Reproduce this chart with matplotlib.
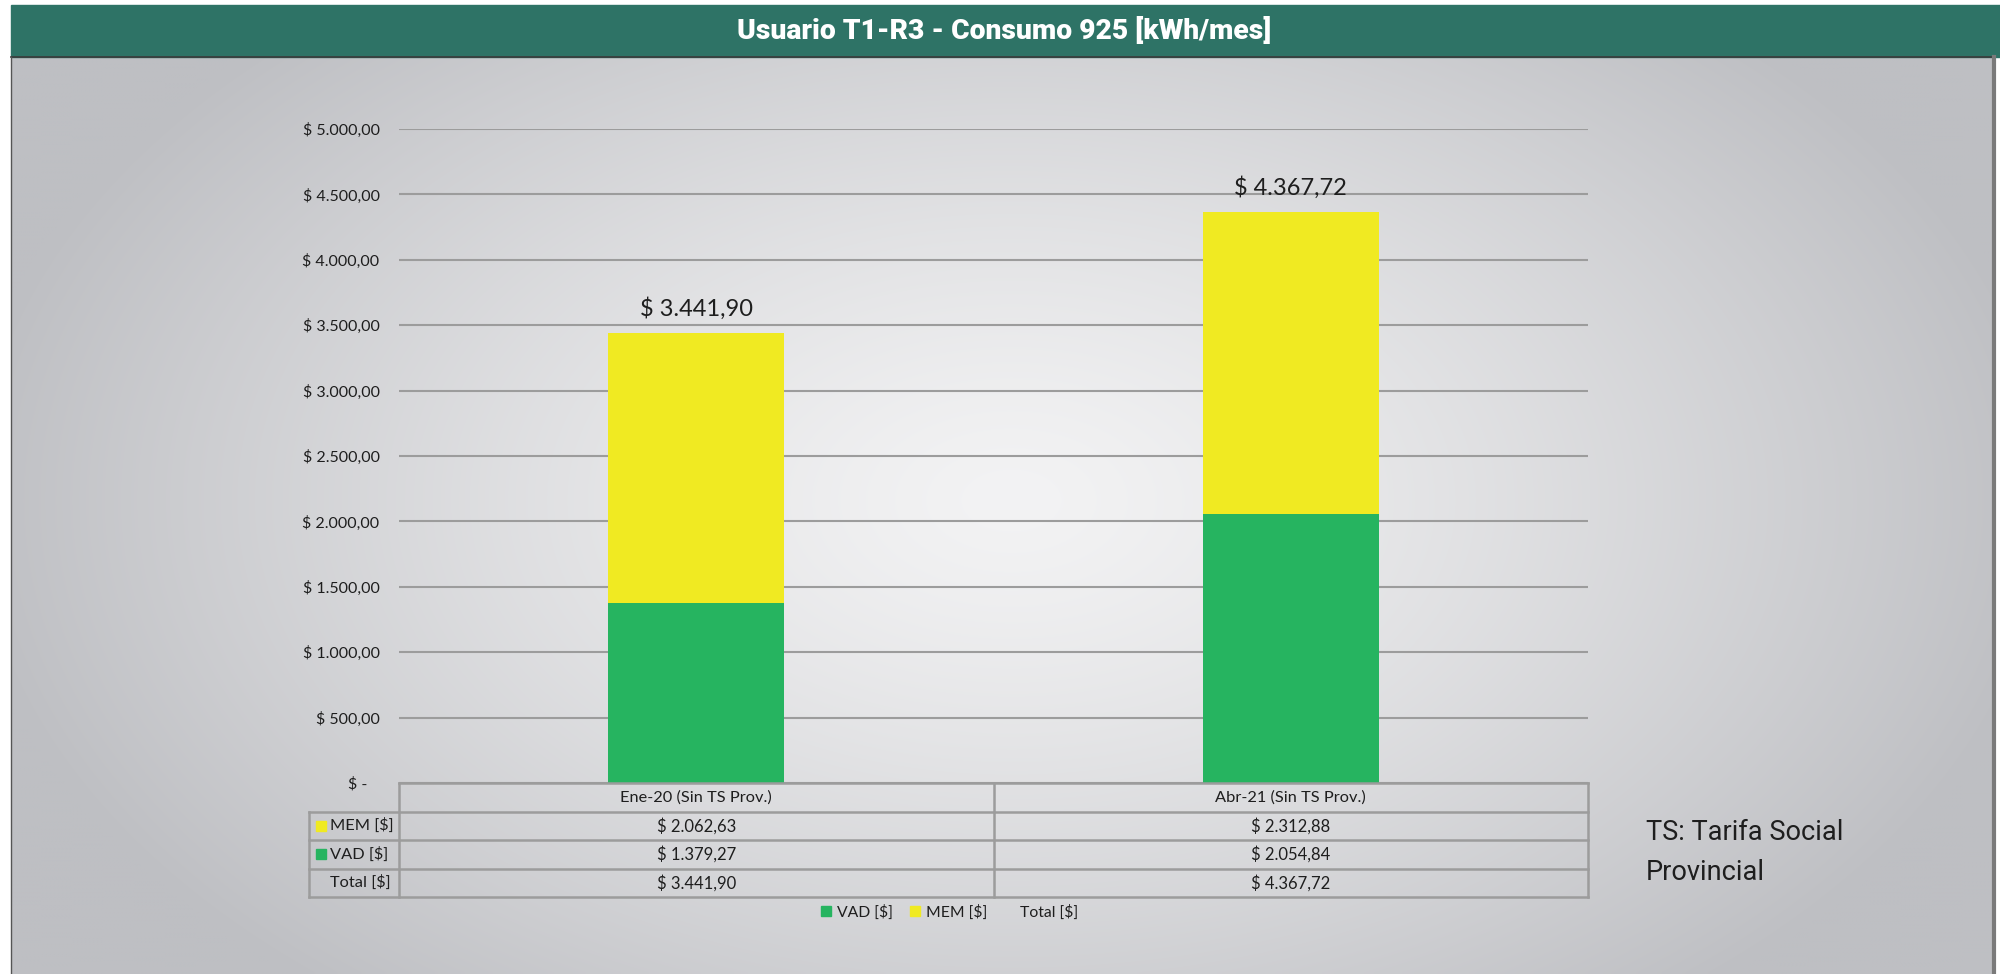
import numpy as np
import matplotlib
matplotlib.use('Agg')
import matplotlib.pyplot as plt
import matplotlib.transforms as mtransforms
from matplotlib.patches import Rectangle, Patch
from matplotlib.lines import Line2D

# data
categories = ['Ene-20 (Sin TS Prov.)', 'Abr-21 (Sin TS Prov.)']
vad = [1379.27, 2054.84]
mem = [2062.63, 2312.88]
total = [3441.90, 4367.72]
yticks = [0, 500, 1000, 1500, 2000, 2500, 3000, 3500, 4000, 4500, 5000]

title = 'Usuario T1-R3 - Consumo 925 [kWh/mes]'
note = ['TS: Tarifa Social', 'Provincial']

GREEN = '#26B460'
YELLOW = '#F0EA22'
BAR_TEAL = '#2E7366'
GRID = '#9c9c9c'
TXT = '#1e1e1e'
FONT = 'Lato'
SANS = ['Roboto', 'DejaVu Sans']


def fmt(v):
    s = f'{v:,.2f}'
    return '$ ' + s.replace(',', 'X').replace('.', ',').replace('X', '.')


W, H = 2000, 974
fig = plt.figure(figsize=(W / 100, H / 100), dpi=100)

# background panel with radial gradient, in pixel coords
bg = fig.add_axes([0, 0, 1, 1])
bg.set_xlim(0, W)
bg.set_ylim(H, 0)
bg.axis('off')
yy, xx = np.mgrid[57:974:4, 11:1994:4]
r = np.sqrt(((xx - 1010) / 1050.0) ** 2 + ((yy - 500) / 650.0) ** 2)
t = np.clip(r, 0, 1) ** 1.3
light = np.array([243, 243, 244])
dark = np.array([190, 191, 195])
img = (light + (dark - light) * t[..., None]) / 255.0
bg.imshow(img, extent=(11, 1994, 974, 57), aspect='auto', interpolation='bilinear', zorder=0)
bg.add_patch(Rectangle((11, 5), 1989, 52, color=BAR_TEAL, zorder=1))
bg.plot([11, 1994], [57, 57], color='#3a3a3a', lw=1.2, zorder=2)
bg.plot([11, 11], [57, 974], color='#555555', lw=1.0, zorder=2)
bg.plot([1994, 1994], [57, 974], color='#7a7a7a', lw=3, zorder=2)
bg.text(1004, 31, title, color='white', fontsize=20.3, fontweight='heavy',
        family=SANS, ha='center', va='center', zorder=3)

# main chart
ax = fig.add_axes([399 / W, (H - 783) / H, (1588 - 399) / W, (783 - 129) / H])
ax.patch.set_alpha(0)
x = np.arange(len(categories))
bw = 0.296
ax.bar(x, vad, width=bw, color=GREEN, zorder=3)
ax.bar(x, mem, width=bw, bottom=vad, color=YELLOW, zorder=3)
ax.set_xlim(-0.5, len(categories) - 0.5)
ax.set_ylim(0, 5000)
ax.set_yticks(yticks)
ax.set_yticklabels([fmt(v) if v else '$ -   ' for v in yticks], fontsize=11.5,
                   family=FONT, color=TXT)
ax.set_xticks([])
ax.tick_params(axis='y', length=0, pad=14)
ax.yaxis.grid(True, color=GRID, lw=1.5)
ax.set_axisbelow(True)
for s in ax.spines.values():
    s.set_visible(False)

for xi, tv in zip(x, total):
    ax.text(xi, tv + 130, fmt(tv), ha='center', va='baseline', fontsize=17,
            family=FONT, color=TXT, zorder=4)

# data table under the axis
blend = mtransforms.blended_transform_factory(ax.transData, ax.transAxes)
rh = 28.5 / 654
x_lab = -0.5 - 90 / 595
x_right = len(categories) - 0.5
tkw = dict(color=GRID, lw=1.8, transform=blend, clip_on=False, zorder=5)
ax.plot([-0.5, x_right], [0, 0], **tkw)
for k in range(1, 5):
    ax.plot([x_lab, x_right], [-k * rh, -k * rh], **tkw)
ax.plot([x_lab, x_lab], [-rh, -4 * rh], **tkw)
for xv in np.arange(-0.5, len(categories), 1.0):
    ax.plot([xv, xv], [0, -4 * rh], **tkw)

rows = [('MEM [$]', mem, YELLOW), ('VAD [$]', vad, GREEN), ('Total [$]', total, None)]
for xi, c in zip(x, categories):
    ax.text(xi, -0.5 * rh, c, ha='center', va='center', fontsize=11.8,
            family=FONT, color=TXT, transform=blend)
for k, (name, vals, col) in enumerate(rows, start=1):
    yc = -(k + 0.5) * rh
    if col:
        ax.plot([x_lab + 0.0195], [yc], marker='s', ms=7.5, color=col,
                transform=blend, clip_on=False, zorder=6)
    ax.text(x_lab + 0.036, yc, name, ha='left', va='center', fontsize=11.8,
            family=FONT, color=TXT, transform=blend)
    for xi, v in zip(x, vals):
        ax.text(xi, yc, fmt(v), ha='center', va='center', fontsize=12,
                family=FONT, color=TXT, transform=blend)

# legend
handles = [Patch(color=GREEN), Patch(color=YELLOW), Line2D([], [], linestyle='none')]
leg = ax.legend(handles, ['VAD [$]', 'MEM [$]', 'Total [$]'], loc='center',
                bbox_to_anchor=(0.463, -0.197), ncol=3, frameon=False,
                handlelength=0.65, handleheight=0.65, columnspacing=1.1,
                handletextpad=0.35, prop={'family': FONT, 'size': 11.3})
for tx in leg.get_texts():
    tx.set_color(TXT)

# side note
bg.text(1646, 840, note[0], fontsize=19.5, family=SANS, color=TXT, va='baseline')
bg.text(1646, 880, note[1], fontsize=19.5, family=SANS, color=TXT, va='baseline')

fig.savefig('out.png', dpi=100)
